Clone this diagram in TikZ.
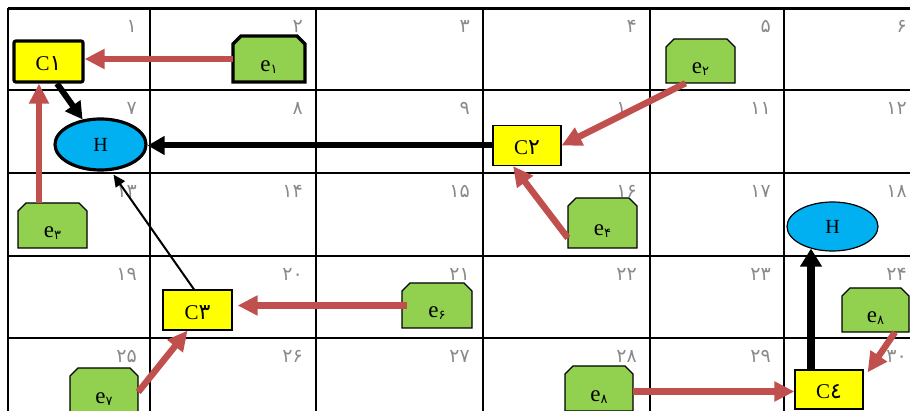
\documentclass[tikz,border=0pt]{standalone}
\usepackage{fontspec}
\setmainfont{Liberation Serif}
\newfontfamily\fa{DejaVu Sans}
\usetikzlibrary{arrows.meta,shapes.geometric}

\definecolor{cyel}{HTML}{FFFF00}
\definecolor{cgrn}{HTML}{92D050}
\definecolor{cblu}{HTML}{00B0F0}
\definecolor{cred}{HTML}{C0504D}
\definecolor{cnum}{HTML}{8A8A8A}

\tikzset{
  gridline/.style={line width=2.4pt, black},
  cellno/.style={anchor=north east, inner sep=0pt, text=cnum, font=\fa\fontsize{19}{19}\selectfont},
  cbox/.style={draw=black, fill=cyel, line width=1.2pt, rectangle, inner sep=0pt,
    text height=19pt, text depth=0pt, font=\fontsize{21}{21}\selectfont},
  thickborder/.style={line width=3.2pt},
  hnode/.style={draw=black, fill=cblu, ellipse, line width=1.2pt, inner sep=0pt,
    font=\fontsize{20}{20}\selectfont},
  ebody/.style={draw=black, fill=cgrn, line width=1.2pt, line join=miter},
  enode/.style={rectangle, inner sep=0pt, text height=25pt, text depth=0pt,
    font=\fontsize{23}{23}\selectfont},
  redarrow/.style={draw=cred, line width=6.5pt, -{Triangle[length=20pt,width=19pt]}},
  blkarrow/.style={draw=black, line width=6pt, -{Triangle[length=17pt,width=18pt]}},
  heavyarrow/.style={draw=black, line width=7.5pt, -{Triangle[length=18pt,width=21pt]}},
  thinarrow/.style={draw=black, line width=2pt, -{Triangle[length=12pt,width=11pt]}},
}

% C label: letter followed by a full-size digit
\newcommand\clabel[1]{C{\fa\fontsize{22}{22}\selectfont #1}}
% e label: letter with a small lowered digit
\newcommand\elabel[1]{e\raisebox{-2pt}{\fa\fontsize{13}{13}\selectfont #1}}

% green box with its two upper corners cut off
% [style]{name}{x}{y}{width}{height}{digit}
\newcommand\ebox[7][]{%
  \path[ebody,#1] ({#3-#5/2},{#4+#6/2}) -- ({#3+#5/2},{#4+#6/2})
    -- ({#3+#5/2},{#4-#6/2+8}) -- ({#3+#5/2-8},{#4-#6/2})
    -- ({#3-#5/2+8},{#4-#6/2}) -- ({#3-#5/2},{#4-#6/2+8}) -- cycle;
  \node[enode, minimum width=#5pt, minimum height=#6pt] (#2) at (#3,#4) {\elabel{#7}};%
}

\begin{document}
\begin{tikzpicture}[x=1pt, y=-1pt]
  \useasboundingbox (0,0) rectangle (910,411);
  \clip (0,0) rectangle (910,411);

  % table grid
  \foreach \gx in {8,150,316,483,650,784,920}
    \draw[gridline] (\gx,8.5) -- (\gx,430);
  \foreach \gy in {8.5,90,173,256,338,421}
    \draw[gridline] (8,\gy) -- (930,\gy);

  % cell numbers
  \foreach \txt [count=\k] in {۱,۲,۳,۴,۵,۶,۷,۸,۹,۱۰,۱۱,۱۲,۱۳,۱۴,۱۵,۱۶,۱۷,۱۸,۱۹,۲۰,۲۱,۲۲,۲۳,۲۴,۲۵,۲۶,۲۷,۲۸,۲۹,۳۰} {
    \pgfmathtruncatemacro\ci{mod(\k-1,6)}
    \pgfmathtruncatemacro\ri{div(\k-1,6)}
    \pgfmathsetmacro\xr{{150,316,483,650,784,920}[\ci]}
    \pgfmathsetmacro\yt{{8.5,90,173,256,338}[\ri]}
    \node[cellno] (n\k) at (\xr-13,\yt+12) {\txt};
  }

  % clusters
  \node[cbox, thickborder, rounded corners=2pt, minimum width=69pt, minimum height=41pt] (C1) at (48.5,61.5) {\clabel{۱}};
  \node[cbox, minimum width=68pt, minimum height=40pt] (C2) at (527,145.5) {\clabel{۲}};
  \node[cbox, minimum width=69pt, minimum height=40pt] (C3) at (197.5,310) {\clabel{۳}};
  \node[cbox, minimum width=68pt, minimum height=39pt] (C4) at (829,389.5) {\clabel{٤}};

  % heads
  \node[hnode, thickborder, minimum width=91pt, minimum height=51pt] (H1) at (100.5,144.5) {H};
  \node[hnode, minimum width=91pt, minimum height=49pt] (H2) at (832.5,226.5) {H};

  % members
  \ebox[thickborder]{e1}{269}{59}{72}{46}{۱}
  \ebox{e2}{700.5}{61}{69}{44}{۲}
  \ebox{e3}{52.5}{225.5}{69}{45}{۳}
  \ebox{e4}{602.5}{223}{69}{50}{۴}
  \ebox{e6}{437}{305.5}{70}{45}{۶}
  \ebox{e7}{104}{390.5}{68}{45}{۷}
  \ebox{e8a}{599}{388.5}{68}{45}{۸}
  \ebox{e8b}{875.5}{310}{67}{44}{۸}

  % member to cluster links
  \draw[redarrow] (e1.west) -- (e1.west -| C1.east);
  \draw[redarrow] ([xshift=-13.5pt]e3.north) -- ([xshift=-9.5pt]C1.south);
  \draw[redarrow] ([xshift=-15pt]e2.south) -- (C2.east);
  \draw[redarrow] ([yshift=-15pt]e4.west) -- ([xshift=-14pt]C2.south);
  \draw[redarrow] ([xshift=5pt]e6.west) -- ([xshift=5pt]e6.west -| C3.east);
  \draw[redarrow] ([yshift=-1.5pt]e7.east) -- ([xshift=-10pt]C3.south);
  \draw[redarrow] ([yshift=-3pt]e8a.east) -- ([yshift=-3pt]e8a.east -| C4.west);
  \draw[redarrow] ([xshift=19.5pt]e8b.south) -- ([xshift=4pt,yshift=-3pt]C4.north east);

  % cluster to head links
  \draw[blkarrow] ([xshift=8.5pt]C1.south) -- (H1);
  \draw[blkarrow] (C2.west) -- (C2.west -| H1.east);
  \draw[thinarrow] ([xshift=-3.5pt]C3.north) -- ([xshift=13pt,yshift=-3pt]H1.south);
  \draw[heavyarrow] ([xshift=-18pt]C4.north) -- ([xshift=-21.5pt,yshift=3pt]H2.south);
\end{tikzpicture}
\end{document}
